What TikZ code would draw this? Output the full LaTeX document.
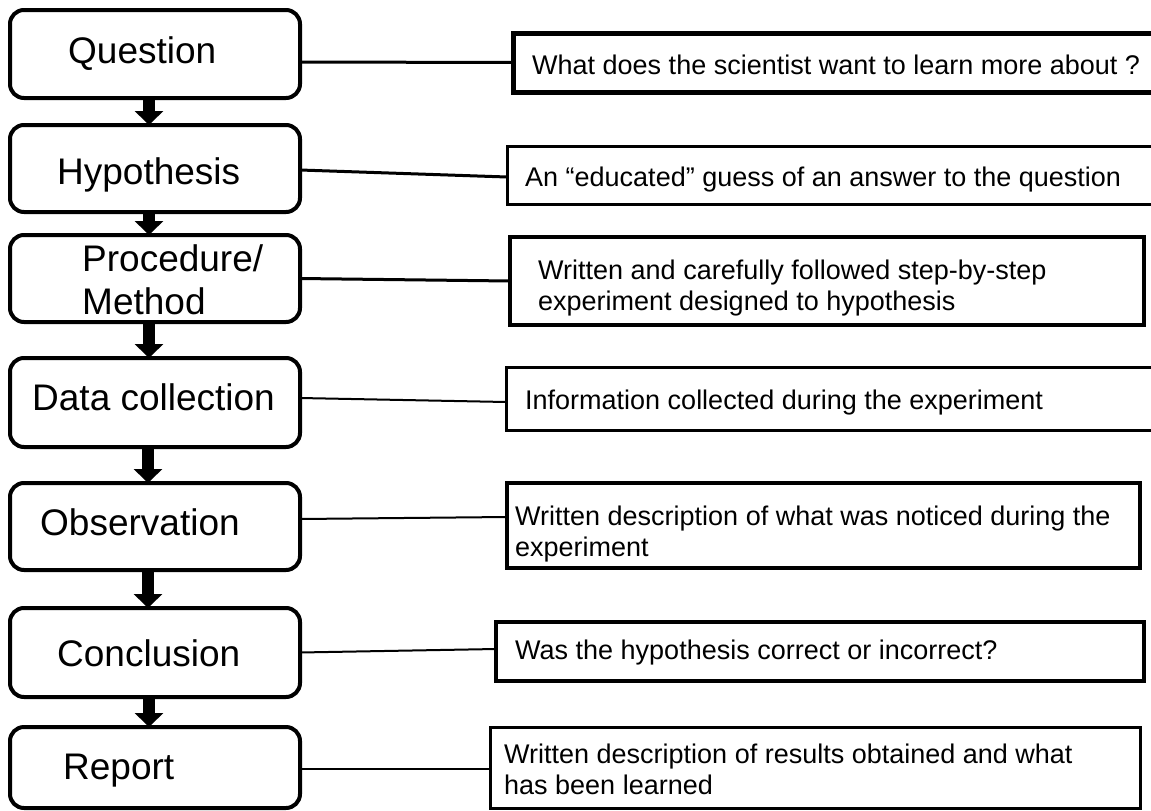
\documentclass[tikz,border=0pt]{standalone}
\usepackage{fontspec}
\setmainfont{Liberation Sans}
\usetikzlibrary{arrows.meta}
\begin{document}
\begin{tikzpicture}[x=1pt,y=-1pt,
  lbox/.style={draw, line width=4pt, rounded corners=14pt, minimum width=290pt, inner sep=0pt, outer sep=0pt, anchor=north west},
  rbox/.style={draw, line width=#1, inner sep=0pt, outer sep=0pt, anchor=north west},
  rbox/.default=3pt,
  ltext/.style={font=\fontsize{37}{44}\selectfont, inner sep=0pt, anchor=base west},
  rtext/.style={font=\fontsize{27}{31}\selectfont, inner sep=0pt, anchor=base west},
  conn/.style={line width=#1},
  conn/.default=2.5pt,
  flow/.style={line width=12pt, -{Triangle[width=28pt,length=14pt]}}
]
\useasboundingbox (0,0) rectangle (1151,811);

% left boxes
\node[lbox, minimum height=88pt] (q) at (10,10) {};
\node[lbox, minimum height=87pt] (h) at (10,125) {};
\node[lbox, minimum height=87pt] (p) at (10,235) {};
\node[lbox, minimum height=89pt] (d) at (10,358) {};
\node[lbox, minimum height=87pt] (o) at (10,483) {};
\node[lbox, minimum height=89pt] (c) at (10,608) {};
\node[lbox, minimum height=81pt] (r) at (10,727) {};

\node[ltext] (qt) at (68,63) {Question};
\node[ltext] (ht) at (57,184) {Hypothesis};
\node[ltext] (pt1) at (82,271) {Procedure/};
\node[ltext] (pt2) at (82,314) {Method};
\node[ltext] (dt) at (32,410) {Data collection};
\node[ltext] (ot) at (40,535) {Observation};
\node[ltext] (ct) at (57,666) {Conclusion};
\node[ltext] (rt) at (63,779) {Report};

% flow arrows
\draw[flow] ([xshift=-6pt]q.south) -- ([xshift=-6pt]h.north);
\draw[flow] ([xshift=-6pt]h.south) -- ([xshift=-6pt]p.north);
\draw[flow] ([xshift=-6pt]p.south) -- ([xshift=-6pt]d.north);
\draw[flow] ([xshift=-7pt]d.south) -- ([xshift=-7pt]o.north);
\draw[flow] ([xshift=-7pt]o.south) -- ([xshift=-7pt]c.north);
\draw[flow] ([xshift=-6pt]c.south) -- ([xshift=-6pt]r.north);

% right boxes
\node[rbox=5pt, minimum width=640pt, minimum height=59pt] (r1) at (513,33) {};
\node[rbox=3pt, minimum width=646pt, minimum height=58pt] (r2) at (507,146) {};
\node[rbox=4.5pt, minimum width=634pt, minimum height=88pt] (r3) at (510,237) {};
\node[rbox=3pt, minimum width=647pt, minimum height=63pt] (r4) at (506,367) {};
\node[rbox=4.5pt, minimum width=633pt, minimum height=85pt] (r5) at (507,483) {};
\node[rbox=3.5pt, minimum width=648pt, minimum height=59pt] (r6) at (496,622) {};
\node[rbox=3pt, minimum width=650pt, minimum height=81pt] (r7) at (490,727) {};

\node[rtext] (r1t) at (532,74) {What does the scientist want to learn more about ?};
\node[rtext] (r2t) at (525,186) {An “educated” guess of an answer to the question};
\node[rtext] (r3t1) at (538,279) {Written and carefully followed step-by-step};
\node[rtext] (r3t2) at (538,310) {experiment designed to hypothesis};
\node[rtext] (r4t) at (525,409) {Information collected during the experiment};
\node[rtext] (r5t1) at (515,525) {Written description of what was noticed during the};
\node[rtext] (r5t2) at (515,556) {experiment};
\node[rtext] (r6t) at (515,659) {Was the hypothesis correct or incorrect?};
\node[rtext] (r7t1) at (504,763) {Written description of results obtained and what};
\node[rtext] (r7t2) at (504,794) {has been learned};

% connectors
\draw[conn=3pt] ([yshift=-8pt]q.east) -- (r1.west);
\draw[conn=3pt] ([yshift=-1.5pt]h.east) -- ([yshift=-2pt]r2.west);
\draw[conn=3pt] (p.east) -- (r3.west);
\draw[conn=2pt] ([yshift=4.5pt]d.east) -- ([yshift=-3.5pt]r4.west);
\draw[conn=2pt] ([yshift=7.5pt]o.east) -- ([yshift=8.5pt]r5.west);
\draw[conn=2pt] (c.east) -- ([yshift=2.5pt]r6.west);
\draw[conn=2.5pt] ([yshift=-1.5pt]r.east) -- ([yshift=-1.5pt]r7.west);
\end{tikzpicture}
\end{document}
